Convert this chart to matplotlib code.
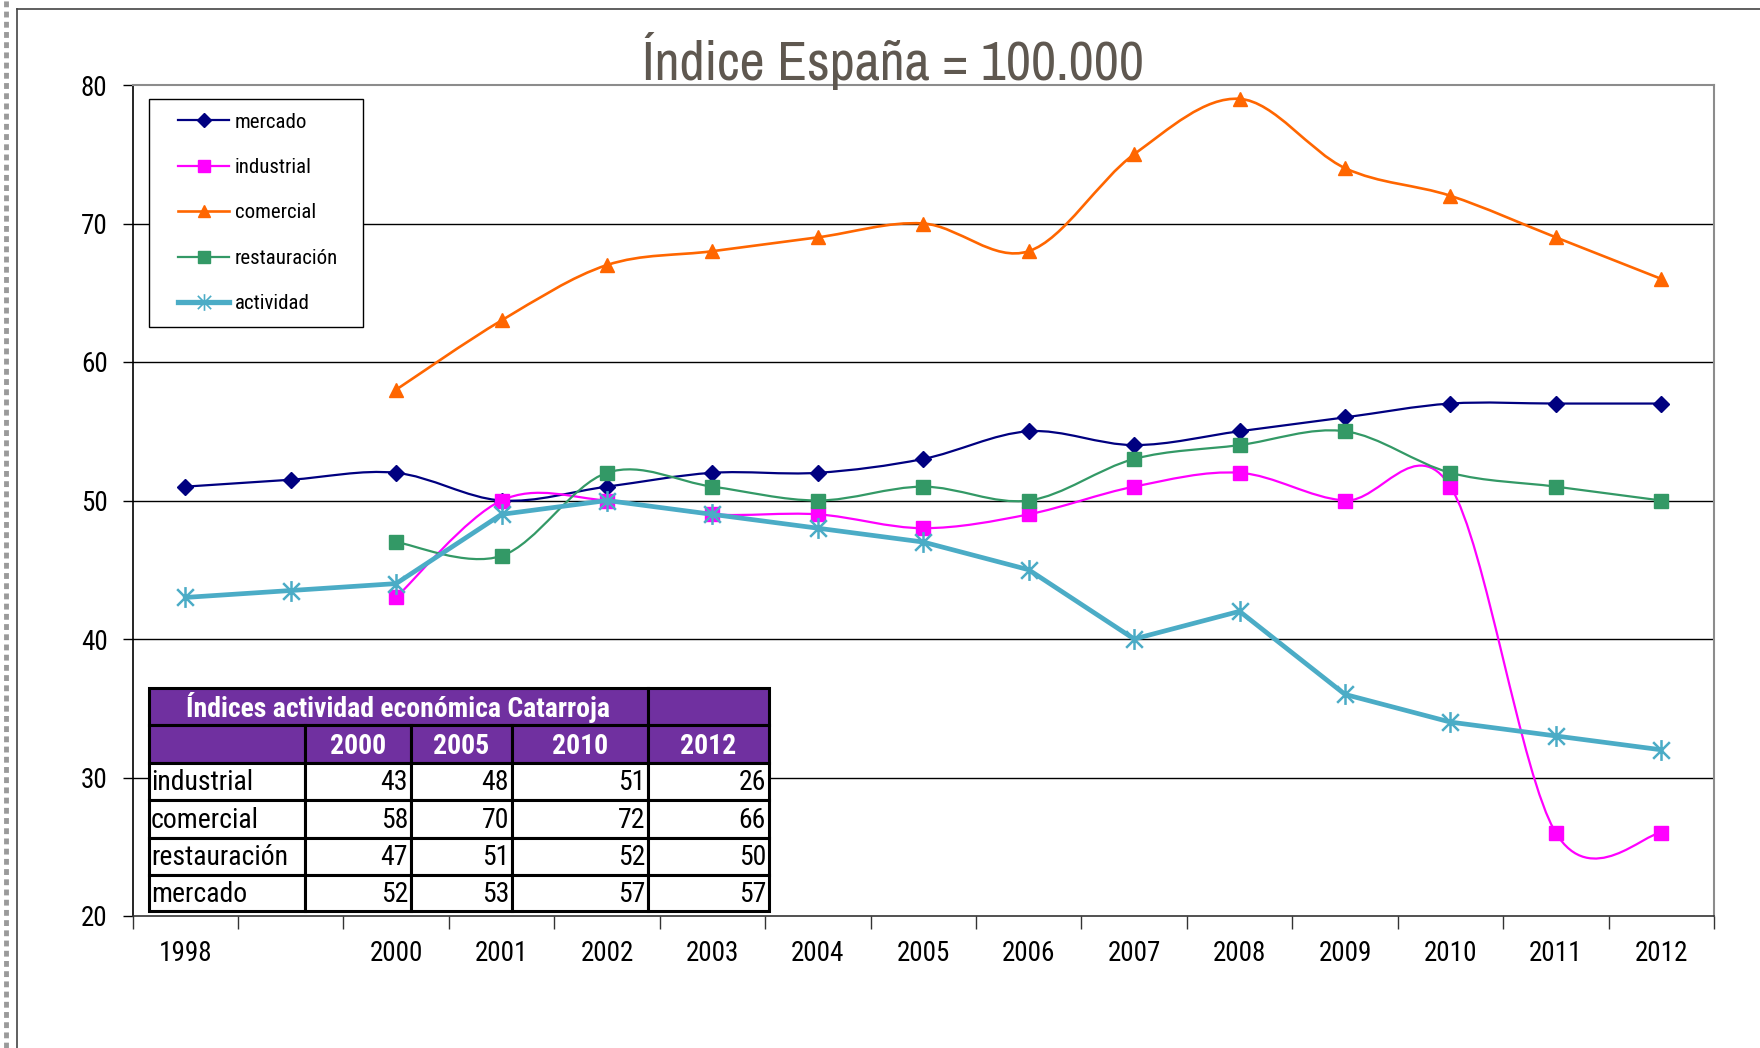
import matplotlib
matplotlib.use("Agg")
import matplotlib.pyplot as plt
from matplotlib.path import Path
from matplotlib.patches import PathPatch, Rectangle
from matplotlib.lines import Line2D
from matplotlib.legend_handler import HandlerLine2D
import numpy as np

# ---------------- data ----------------
categories = ["1998", "", "2000", "2001", "2002", "2003", "2004", "2005",
              "2006", "2007", "2008", "2009", "2010", "2011", "2012"]
mercado = [51, 51.5, 52, 50, 51, 52, 52, 53, 55, 54, 55, 56, 57, 57, 57]
industrial = [None, None, 43, 50, 50, 49, 49, 48, 49, 51, 52, 50, 51, 26, 26]
comercial = [None, None, 58, 63, 67, 68, 69, 70, 68, 75, 79, 74, 72, 69, 66]
restauracion = [None, None, 47, 46, 52, 51, 50, 51, 50, 53, 54, 55, 52, 51, 50]
actividad = [43, 43.5, 44, 49, 50, 49, 48, 47, 45, 40, 42, 36, 34, 33, 32]
y_ticks = [20, 30, 40, 50, 60, 70, 80]
title = "Índice España = 100.000"
table_title = "Índices actividad económica Catarroja"
table_years = ["2000", "2005", "2010", "2012"]
table_rows = ["industrial", "comercial", "restauración", "mercado"]

# ---------------- fonts ----------------
plt.rcParams["font.family"] = ["Roboto Condensed", "DejaVu Sans"]

W, H = 1760, 1048
fig = plt.figure(figsize=(W / 100, H / 100), dpi=100)
fig.patch.set_facecolor("white")

# outer chart frame and dotted left edge
fig.add_artist(Line2D([17 / W, 17 / W], [0, 1 - 9 / H], color="#444444", lw=1.2))
fig.add_artist(Line2D([17 / W, 1], [1 - 9 / H, 1 - 9 / H], color="#444444", lw=1.2))
fig.add_artist(Line2D([6 / W, 6 / W], [0, 1], color="#9a9a9a", lw=3.5,
                      linestyle=(0, (1.2, 0.9))))

ax_l, ax_r, ax_t, ax_b = 132.5, 1714, 85, 916
AW, AH = ax_r - ax_l, ax_b - ax_t
ax = fig.add_axes([ax_l / W, 1 - ax_b / H, AW / W, AH / H])
ax.set_xlim(-0.5, len(categories) - 0.5)
ax.set_ylim(20, 80)

for y in y_ticks[1:-1]:
    ax.axhline(y, color="black", lw=1.0, zorder=1)

ax.spines["top"].set_color("#8c8c8c")
ax.spines["right"].set_color("#8c8c8c")
ax.spines["top"].set_linewidth(1.5)
ax.spines["right"].set_linewidth(1.5)
ax.spines["left"].set_color("black")
ax.spines["bottom"].set_color("#333333")
ax.spines["left"].set_linewidth(1.2)
ax.spines["bottom"].set_linewidth(1.2)

ax.set_yticks(y_ticks)
ax.set_yticklabels([str(v) for v in y_ticks], fontsize=19.5)
ax.tick_params(axis="y", length=7, width=1.0, pad=11, color="black")
# x: ticks at category boundaries, labels at centers
ax.set_xticks(np.arange(-0.5, len(categories) + 0.5, 1.0))
ax.set_xticklabels([])
ax.set_xticks(np.arange(len(categories)), minor=True)
ax.set_xticklabels(categories, minor=True, fontsize=19.5)
ax.tick_params(axis="x", which="major", length=9, width=1.0, color="#333333")
ax.tick_params(axis="x", which="minor", length=0, pad=17)


def smooth_path(xs, ys):
    pts = [(x, y) for x, y in zip(xs, ys) if y is not None]
    P = np.array(pts, dtype=float)
    verts = [tuple(P[0])]
    codes = [Path.MOVETO]
    n = len(P)
    for i in range(n - 1):
        p0 = P[i - 1] if i > 0 else P[i]
        p1 = P[i]
        p2 = P[i + 1]
        p3 = P[i + 2] if i + 2 < n else P[i + 1]
        c1 = p1 + (p2 - p0) / 6.0
        c2 = p2 - (p3 - p1) / 6.0
        verts += [tuple(c1), tuple(c2), tuple(p2)]
        codes += [Path.CURVE4] * 3
    return Path(verts, codes)


x = np.arange(len(categories))
series = [
    ("mercado", mercado, "#000080", "D", 8, 1.6),
    ("industrial", industrial, "#FF00FF", "s", 10, 1.6),
    ("comercial", comercial, "#FF6600", "^", 10.5, 1.9),
    ("restauración", restauracion, "#339966", "s", 10, 1.6),
]
star = Path([(0, -1), (0, 1), (-0.8, -0.8), (0.8, 0.8), (-0.8, 0.8), (0.8, -0.8)],
            [Path.MOVETO, Path.LINETO, Path.MOVETO, Path.LINETO, Path.MOVETO, Path.LINETO])

handles = []
for name, vals, col, mk, ms, lw in series:
    ax.add_patch(PathPatch(smooth_path(x, vals), facecolor="none", edgecolor=col,
                           lw=lw, zorder=3))
    xv = [xi for xi, v in zip(x, vals) if v is not None]
    yv = [v for v in vals if v is not None]
    ax.plot(xv, yv, linestyle="none", marker=mk, ms=ms, color=col, mec=col, zorder=4)
    handles.append(Line2D([], [], color=col, lw=lw, marker=mk, ms=ms * 0.85, mec=col))

act_col = "#4BACC6"
ax.plot(x, actividad, color=act_col, lw=3.4, zorder=5)
ax.plot(x, actividad, linestyle="none", marker=star, ms=15, mec=act_col, mew=1.8,
        color=act_col, zorder=6)
handles.append(Line2D([], [], color=act_col, lw=3.8, marker=star, ms=12, mec=act_col, mew=1.2))

labels = ["mercado", "industrial", "comercial", "restauración", "actividad"]
leg_x0, leg_y0, leg_w = 149, 99, 213.5
leg = ax.legend(handles, labels, loc="upper left",
                bbox_to_anchor=((leg_x0 - ax_l) / AW, 1 - (leg_y0 - ax_t) / AH - 0.3,
                                leg_w / AW, 0.3),
                mode="expand", handler_map={Line2D: HandlerLine2D(xpad=0.745)},
                fontsize=15, frameon=True, fancybox=False, edgecolor="black",
                labelspacing=1.27, handlelength=3.2, handletextpad=0.27,
                borderpad=0.65, borderaxespad=0, framealpha=1)
leg.get_frame().set_linewidth(1.0)
leg.set_zorder(10)

# title
fig.text(893 / W, 1 - 80 / H, title, ha="center", va="baseline",
         fontsize=39.5, color="#5f5850", family=["Archivo Narrow", "Roboto Condensed", "DejaVu Sans"])

# ---------------- table ----------------
col_edges = [149, 305, 411, 512, 648, 769]
row_edges = [688, 725, 763, 800, 838, 875, 911]
purple = "#7030A0"
tax = fig.add_axes([0, 0, 1, 1], zorder=20)
tax.set_xlim(0, W)
tax.set_ylim(H, 0)
tax.axis("off")
tax.patch.set_alpha(0)

def cell(x0, x1, y0, y1, fc):
    tax.add_patch(Rectangle((x0, y0), x1 - x0, y1 - y0, facecolor=fc,
                            edgecolor="black", lw=2.2))

FS = 20
# title row
cell(col_edges[0], col_edges[4], row_edges[0], row_edges[1], purple)
cell(col_edges[4], col_edges[5], row_edges[0], row_edges[1], purple)
tax.text(0.5 * (col_edges[0] + col_edges[4]), 0.5 * (row_edges[0] + row_edges[1]) + 1,
         table_title, ha="center", va="center", color="white", fontsize=FS, fontweight="bold")
# header row
for j in range(5):
    cell(col_edges[j], col_edges[j + 1], row_edges[1], row_edges[2], purple)
    if j > 0:
        tax.text(0.5 * (col_edges[j] + col_edges[j + 1]), 0.5 * (row_edges[1] + row_edges[2]) + 2,
                 table_years[j - 1], ha="center", va="center", color="white",
                 fontsize=FS, fontweight="bold")
series_by_name = {"industrial": industrial, "comercial": comercial,
                  "restauración": restauracion, "mercado": mercado}
for i, rname in enumerate(table_rows):
    y0, y1 = row_edges[2 + i], row_edges[3 + i]
    ym = 0.5 * (y0 + y1) + 1
    for j in range(5):
        cell(col_edges[j], col_edges[j + 1], y0, y1, "white")
    tax.text(col_edges[0] + 2, ym, rname, ha="left", va="center", fontsize=FS, color="black")
    vals = series_by_name[rname]
    for j, yr in enumerate(table_years):
        v = vals[categories.index(yr)]
        tax.text(col_edges[j + 2] - 3, ym, f"{v:g}", ha="right", va="center",
                 fontsize=FS, color="black")

fig.savefig("out.png", dpi=100)
